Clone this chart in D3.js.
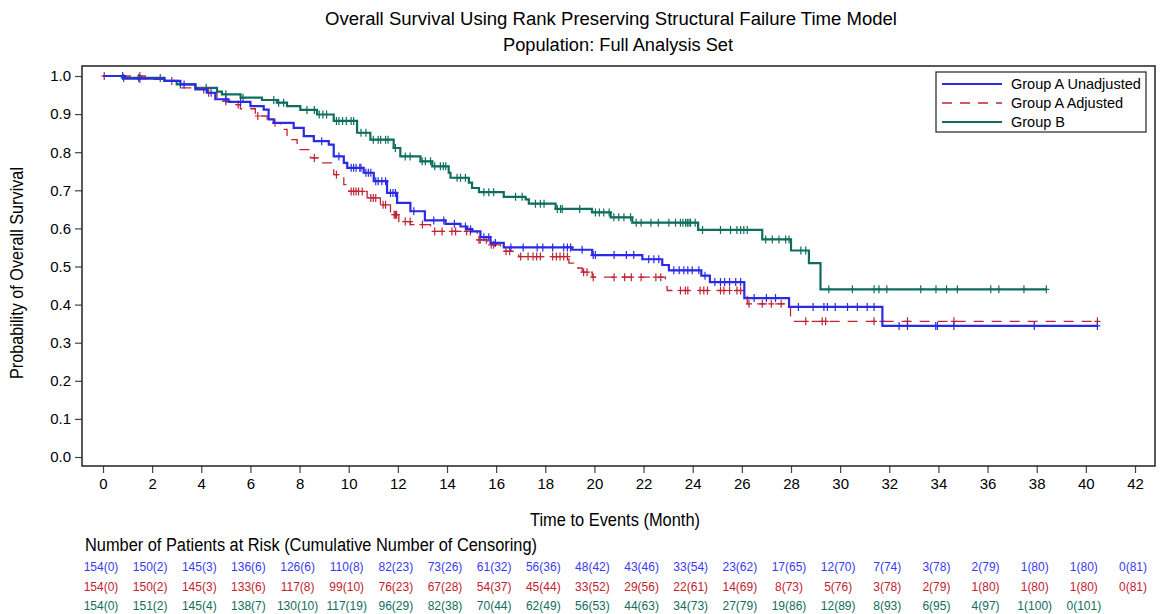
<!DOCTYPE html>
<html>
<head>
<meta charset="utf-8">
<script src="https://cdn.jsdelivr.net/npm/d3@7"></script>
<style>
  body { margin: 0; background: #fff; }
  text { font-family: "Liberation Sans", Arial, sans-serif; fill: #000; }
</style>
</head>
<body>
<svg></svg>
<script>
let width = 1162;
let height = 614;
let svg = d3.select("svg")
            .attr("width", width)
            .attr("height", height);

// step points [month, survival after drop]
let stepsA = [[0,1.0],[0.9,0.993],[2.5,0.987],[3.15,0.978],[3.76,0.965],[4.23,0.956],[4.57,0.939],[5.11,0.932],
  [6.0,0.921],[6.54,0.912],[6.74,0.886],[6.95,0.877],[7.76,0.864],[8.17,0.842],[8.58,0.829],[9.19,0.820],
  [9.39,0.789],[9.8,0.772],[9.94,0.759],[10.61,0.746],[11.02,0.724],[11.56,0.693],[11.97,0.667],[12.51,0.645],
  [13.1,0.621],[13.94,0.612],[14.55,0.605],[14.82,0.598],[15.02,0.592],[15.36,0.577],[15.77,0.562],[16.31,0.550],
  [19.1,0.544],[19.91,0.530],[21.95,0.519],[22.76,0.504],[23.03,0.490],[24.35,0.476],[24.7,0.459],[26.1,0.417],
  [27.92,0.394],[31.72,0.344],[40.47,0.344]];
let stepsAadj = [[0,1.0],[1.72,0.991],[2.47,0.987],[3.15,0.969],[4.1,0.956],[4.64,0.934],[5.18,0.925],[5.59,0.914],
  [6.2,0.895],[6.68,0.877],[7.22,0.860],[7.49,0.833],[7.9,0.807],[8.44,0.785],[8.85,0.772],[9.39,0.741],
  [9.8,0.715],[10.0,0.697],[10.75,0.680],[11.29,0.662],[11.7,0.636],[12.04,0.618],[12.51,0.610],[13.33,0.592],
  [15.23,0.570],[15.63,0.557],[16.18,0.540],[16.92,0.526],[18.96,0.509],[19.16,0.496],[19.5,0.485],[19.91,0.472],
  [22.89,0.447],[22.96,0.437],[26.22,0.402],[27.98,0.356],[40.47,0.356]];
let stepsB = [[0,1.0],[0.8,0.995],[2.5,0.987],[3.0,0.978],[3.76,0.969],[4.64,0.959],[4.84,0.952],[5.6,0.943],
  [6.47,0.937],[7.08,0.930],[7.49,0.921],[8.03,0.911],[8.71,0.899],[9.39,0.882],[10.34,0.851],[10.88,0.833],
  [11.83,0.811],[12.1,0.789],[12.92,0.776],[13.4,0.763],[14.07,0.746],[14.14,0.733],[14.89,0.720],[15.02,0.706],
  [15.3,0.695],[16.31,0.683],[17.2,0.676],[17.33,0.665],[18.42,0.651],[19.9,0.642],[20.66,0.629],[21.54,0.615],
  [24.22,0.596],[26.83,0.571],[28.0,0.542],[28.73,0.509],[29.2,0.440],[38.39,0.440]];

// censoring times
let censA = [0.8,1.5,3.3,4.4,5.0,5.6,8.9,9.6,10.1,10.2,10.3,10.45,10.5,10.7,10.8,10.9,11.1,11.2,11.35,11.5,11.7,11.8,11.9,
  12.65,13.46,13.87,14.3,14.75,14.96,15.5,15.7,15.97,16.6,17.1,17.67,17.9,18.3,18.75,18.9,19.03,19.5,19.95,
  20.04,20.8,21.3,21.6,22.21,22.42,22.62,23.23,23.45,23.64,23.8,23.98,24.25,24.5,24.9,25.13,25.3,25.5,25.75,25.95,
  26.5,27.0,27.37,28.3,28.9,29.34,29.48,29.8,30.3,30.7,31.1,31.38,32.4,32.74,33.89,33.96,34.63,37.9,40.47];
let censAadj = [0.05,1.5,2.8,4.3,5.0,5.5,6.3,7.0,8.6,9.5,10.1,10.2,10.3,10.4,10.55,10.9,11.0,11.1,11.4,11.5,11.85,11.9,11.95,
  12.3,12.5,13.0,13.5,13.8,14.2,14.35,14.8,14.95,15.3,15.35,15.6,15.8,15.9,16.4,16.55,17.0,17.3,17.5,17.65,17.8,
  18.3,18.45,18.6,18.75,18.9,19.56,19.7,19.95,20.8,21.23,21.5,21.9,22.5,22.7,23.5,23.7,23.8,
  24.3,24.45,24.6,25.13,25.27,25.5,25.8,25.95,26.29,26.83,27.2,27.6,28.6,29.27,29.41,31.38,31.72,32.74,34.63,40.47];
let censB = [0.84,1.45,2.33,3.15,4.2,5.0,5.7,6.95,7.15,7.35,8.3,8.6,8.8,8.95,9.1,9.5,9.6,9.75,9.9,
  10.1,10.2,10.5,10.7,11.0,11.2,11.3,11.5,11.6,11.9,12.3,12.5,12.99,13.12,13.33,13.5,13.73,13.85,13.95,
  14.41,14.55,14.75,15.5,15.7,15.9,16.79,17.06,17.6,17.8,17.95,18.49,18.62,18.69,19.4,
  20.04,20.2,20.38,20.6,20.79,20.99,21.2,21.47,21.7,21.9,22.3,22.6,23.03,23.3,23.5,23.6,23.71,23.78,23.85,23.91,
  24.1,24.4,25.13,25.54,25.8,25.95,26.08,26.22,26.97,27.24,27.51,27.78,27.92,28.4,28.6,29.54,
  30.5,31.38,31.58,31.9,33.28,33.9,34.33,34.77,36.13,36.46,37.48,38.39];

// risk table
let riskTimes = [0,2,4,6,8,10,12,14,16,18,20,22,24,26,28,30,32,34,36,38,40,42];
let riskA = [154,150,145,136,126,110,82,73,61,56,48,43,33,23,17,12,7,3,2,1,1,0];
let riskAcens = [0,2,3,6,6,8,23,26,32,36,42,46,54,62,65,70,74,78,79,80,80,81];
let riskAadj = [154,150,145,133,117,99,76,67,54,45,33,29,22,14,8,5,3,2,1,1,1,0];
let riskAadjCens = [0,2,3,6,8,10,23,28,37,44,52,56,61,69,73,76,78,79,80,80,80,81];
let riskB = [154,151,145,138,130,117,96,82,70,62,56,44,34,27,19,12,8,6,4,1,0];
let riskBcens = [0,2,4,7,10,19,29,38,44,49,53,63,73,79,86,89,93,95,97,100,101];

let xTicks = d3.range(0, 43, 2);
let yTicks = [0,0.1,0.2,0.3,0.4,0.5,0.6,0.7,0.8,0.9,1.0];

let groups = [
  {name: "Group A Unadjusted", steps: stepsA, cens: censA, color: "#2b2be6", text: "#3a3af0", width: 2.2, dash: null,
   risk: riskA, riskCens: riskAcens},
  {name: "Group A Adjusted", steps: stepsAadj, cens: censAadj, color: "#c02434", text: "#c0222e", width: 1.3, dash: "10,8",
   risk: riskAadj, riskCens: riskAadjCens},
  {name: "Group B", steps: stepsB, cens: censB, color: "#0e6e5e", text: "#106e5c", width: 2.2, dash: null,
   risk: riskB, riskCens: riskBcens}
];

let plotLeft = 82, plotRight = 1155, plotTop = 66, plotBottom = 466;

let xScale = d3.scaleLinear()
               .domain([0, 42])
               .range([103, 1135]);

let yScale = d3.scaleLinear()
               .domain([0, 1])
               .range([457, 76]);

// titles (text squeezed to the reference's condensed font width)
svg.append("text")
   .attr("x", 611).attr("y", 25)
   .attr("text-anchor", "middle")
   .attr("textLength", 572).attr("lengthAdjust", "spacingAndGlyphs")
   .style("font-size", "18px")
   .text("Overall Survival Using Rank Preserving Structural Failure Time Model");
svg.append("text")
   .attr("x", 618).attr("y", 51)
   .attr("text-anchor", "middle")
   .attr("textLength", 230).attr("lengthAdjust", "spacingAndGlyphs")
   .style("font-size", "18px")
   .text("Population: Full Analysis Set");

// axes
let xAxis = svg.append("g")
   .attr("transform", "translate(0," + plotBottom + ")")
   .call(d3.axisBottom(xScale).tickValues(xTicks).tickSize(7).tickPadding(5).tickFormat(d3.format("d")));
let yAxis = svg.append("g")
   .attr("transform", "translate(" + plotLeft + ",0)")
   .call(d3.axisLeft(yScale).tickValues(yTicks).tickSize(7).tickPadding(4).tickFormat(d3.format(".1f")));

[xAxis, yAxis].forEach((g) => {
  g.select(".domain").remove();
  g.selectAll(".tick line").attr("stroke", "#444").attr("stroke-width", 1.2);
  g.selectAll(".tick text").style("font-size", "15px");
  g.attr("font-family", null);
});

svg.append("rect")
   .attr("x", plotLeft).attr("y", plotTop)
   .attr("width", plotRight - plotLeft).attr("height", plotBottom - plotTop)
   .attr("fill", "none")
   .attr("stroke", "#222")
   .attr("stroke-width", 1.5);

svg.append("text")
   .attr("x", 615).attr("y", 526)
   .attr("text-anchor", "middle")
   .attr("textLength", 170).attr("lengthAdjust", "spacingAndGlyphs")
   .style("font-size", "18px")
   .text("Time to Events (Month)");

svg.append("text")
   .attr("transform", "translate(23,273) rotate(-90)")
   .attr("text-anchor", "middle")
   .attr("textLength", 212).attr("lengthAdjust", "spacingAndGlyphs")
   .style("font-size", "18px")
   .text("Probability of Overall Survival");

// curves
let line = d3.line()
             .x((d) => { return xScale(d[0]); })
             .y((d) => { return yScale(d[1]); })
             .curve(d3.curveStepAfter);

let survAt = (steps, t) => {
  let s = steps[0][1];
  steps.forEach((d) => { if (d[0] <= t) { s = d[1]; } });
  return s;
};

let plot = svg.append("g");

groups.slice().reverse().forEach((g) => {
  plot.append("path")
      .datum(g.steps)
      .attr("d", line)
      .attr("fill", "none")
      .attr("stroke", g.color)
      .attr("stroke-width", g.width)
      .attr("stroke-dasharray", g.dash);

  plot.selectAll(null)
      .data(g.cens)
      .enter()
      .append("path")
      .attr("d", (t) => {
        let cx = xScale(t), cy = yScale(survAt(g.steps, t));
        return "M" + cx + "," + (cy - 4) + "V" + (cy + 4) + "M" + (cx - 3) + "," + cy + "H" + (cx + 3);
      })
      .attr("stroke", g.color)
      .attr("stroke-width", 1.2)
      .attr("fill", "none");
});

// legend
let legend = svg.append("g");
legend.append("rect")
      .attr("x", 936).attr("y", 72)
      .attr("width", 210).attr("height", 60)
      .attr("fill", "#fff")
      .attr("stroke", "#222")
      .attr("stroke-width", 1.2);

groups.forEach((g, i) => {
  let ly = 84 + i * 19;
  legend.append("line")
        .attr("x1", 942).attr("x2", 1002)
        .attr("y1", ly).attr("y2", ly)
        .attr("stroke", g.color)
        .attr("stroke-width", g.dash ? 1.3 : 2.2)
        .attr("stroke-dasharray", g.dash);
  legend.append("text")
        .attr("x", 1011).attr("y", ly + 5)
        .style("font-size", "14.5px")
        .text(g.name);
});

// patients at risk
svg.append("text")
   .attr("x", 85).attr("y", 551)
   .attr("textLength", 452).attr("lengthAdjust", "spacingAndGlyphs")
   .style("font-size", "18px")
   .text("Number of Patients at Risk (Cumulative Number of Censoring)");

groups.forEach((g, i) => {
  svg.append("g")
     .selectAll("text")
     .data(g.risk)
     .enter()
     .append("text")
     .attr("x", (d, j) => { return xScale(riskTimes[j]) - 2; })
     .attr("y", 571 + i * 19.5)
     .attr("text-anchor", "middle")
     .style("font-size", "12px")
     .style("fill", g.text)
     .text((d, j) => { return d + "(" + g.riskCens[j] + ")"; });
});
</script>
</body>
</html>
